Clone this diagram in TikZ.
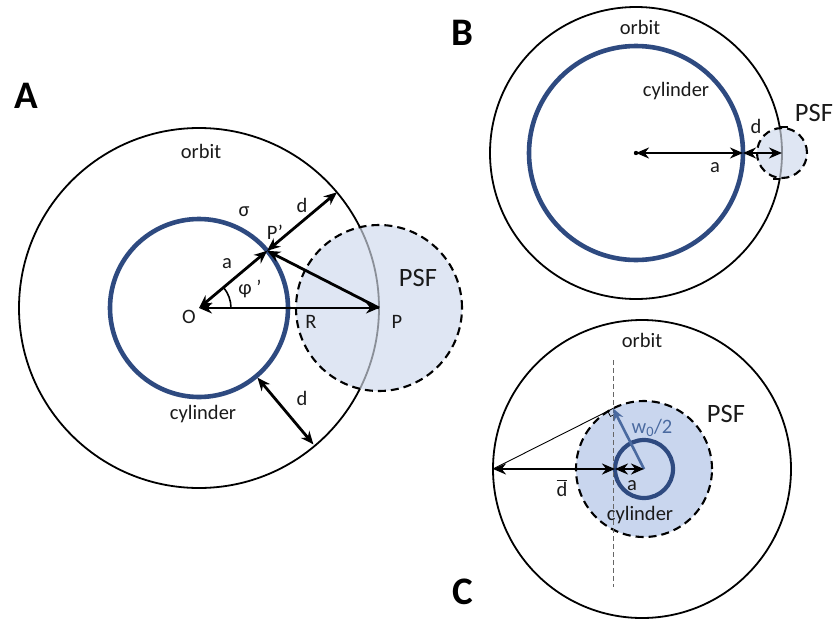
\documentclass[tikz,border=0pt]{standalone}
\usepackage{fontspec}
\setmainfont{Carlito}
\usetikzlibrary{arrows.meta,calc}
\definecolor{cylblue}{HTML}{2E4A80}
\definecolor{psfA}{HTML}{DFE6F3}
\definecolor{psfC}{HTML}{C9D6EE}
\definecolor{wblue}{HTML}{4A6AA0}
\definecolor{txt}{HTML}{1A1A1A}
\definecolor{orbgray}{HTML}{8A8F98}
\begin{document}
\begin{tikzpicture}[x=1pt,y=1pt,
  orbitline/.style={line width=1.8pt, black},
  orbitin/.style={line width=1.8pt, orbgray},
  cyl/.style={line width=4.6pt, cylblue},
  psfline/.style={line width=2.1pt, dash pattern=on 8pt off 5pt},
  dim/.style={line width=2.8pt, {Stealth[length=13pt,width=11pt]}-{Stealth[length=13pt,width=11pt]}},
  onearrow/.style={line width=2.8pt, -{Stealth[length=13pt,width=11pt]}},
  lbl/.style={font=\fontsize{20.5}{22}\selectfont, text=txt, inner sep=0pt},
  big/.style={font=\fontsize{26.5}{28}\selectfont, text=txt, inner sep=0pt},
  panel/.style={font=\fontsize{39}{40}\selectfont\bfseries, text=black, inner sep=0pt},
]
\useasboundingbox (0,0) rectangle (837,-621);

% ---------------- Panel A ----------------
\coordinate (O) at (199,-308);
\coordinate (P) at (379,-308);
\draw[orbitline] (O) circle (180);
\fill[psfA] (P) circle (83);
\begin{scope}
  \clip (P) circle (83);
  \draw[orbitin] (O) circle (180);
\end{scope}
\draw[psfline] (P) circle (83);
\draw[cyl] (O) circle (89);

\coordinate (Pp) at ($(O)+(40:89)$);
\coordinate (Q) at ($(O)+(40:180)$);
\coordinate (C1) at ($(O)+(-50:91)$);
\coordinate (Q1) at ($(O)+(-50:178)$);
\draw[line width=1.6pt] ($(O)+(32,0)$) arc (0:40:32);
\draw[dim] (O) -- (P);
\draw[dim] (O) -- (Pp);
\draw[dim] (Pp) -- (Q);
\draw[onearrow] (P) -- (Pp);
\draw[dim] (C1) -- (Q1);

\node[panel] (labA) at (26,-96) {A};
\node[lbl] (orbA) at (201,-151) {orbit};
\node[lbl] (sigA) at (244,-212) {σ};
\node[lbl] (PpA) at (275,-232) {P’};
\node[lbl] (dA1) at (302,-205) {d};
\node[lbl] (aA) at (227,-264) {a};
\node[lbl] (phiA) at (250,-289) {φ ’};
\node[lbl] (OA) at (189,-317) {O};
\node[lbl] (RA) at (311,-322) {R};
\node[lbl] (PA) at (397,-322) {P};
\node[big] (psfAl) at (418,-278) {PSF};
\node[lbl] (dA2) at (302,-398) {d};
\node[lbl] (cylA) at (203,-414) {cylinder};

% ---------------- Panel B ----------------
\coordinate (B0) at (636,-153);
\coordinate (Bc) at (743,-153);
\coordinate (Bp) at (782,-153);
\draw[orbitline] (B0) circle (146);
\fill[psfA] (Bp) circle (25);
\begin{scope}
  \clip (Bp) circle (25);
  \draw[orbitin] (B0) circle (146);
\end{scope}
\draw[psfline] (Bp) circle (25);
\draw[line width=1.4pt] ($(B0)+(10.3:146)$) -- ++(8,0);
\draw[line width=1.4pt] ($(B0)+(-10.3:146)$) -- ++(-7,0);
\draw[cyl] (B0) circle (107);
\fill (B0) circle (2.2);
\draw[dim] (B0) -- (Bc);
\draw[dim] (Bc) -- (Bp);

\node[panel] (labB) at (462,-33) {B};
\node[lbl] (orbB) at (640,-27) {orbit};
\node[lbl] (cylB) at (676,-91) {cylinder};
\node[lbl] (aB) at (715,-168) {a};
\node[lbl] (dB) at (756,-126) {d};
\node[big] (psfBl) at (814,-113) {PSF};

% ---------------- Panel C ----------------
\coordinate (C0) at (642,-469);
\coordinate (Cc) at (644,-469);
\coordinate (T) at ($(Cc)+(117:68)$);
\coordinate (L) at ($(C0)+(180:149)$);
\coordinate (Cl) at ($(Cc)+(180:29)$);
\draw[orbitline] (C0) circle (149);
\fill[psfC] (Cc) circle (68);
\draw[psfline] (Cc) circle (68);
\draw[line width=4.2pt, cylblue] (Cc) circle (29);
\draw[line width=0.9pt, black!60, dash pattern=on 5pt off 3pt] (T |- 0,-360) -- (T |- 0,-587);
\draw[line width=0.9pt] (L) -- (T);
\coordinate (m1) at ($(T)!6pt!(L)$);
\coordinate (m2) at ($(T)!6pt!(Cc)$);
\draw[line width=0.7pt] (m1) -- ($(m1)+(m2)-(T)$) -- (m2);
\draw[line width=2.6pt, wblue, -{Stealth[length=12pt,width=10pt]}] (Cc) -- (T);
\draw[dim] (L) -- (Cl);
\draw[dim] (Cl) -- (Cc);

\node[panel] (labC) at (463,-592) {C};
\node[lbl] (orbC) at (642,-340) {orbit};
\node[big] (psfCl) at (726,-414) {PSF};
\node[lbl, text=wblue] (wC) at (652,-428) {w\textsubscript{0}/2};
\node[lbl] (dC) at (562,-488) {$\overline{\mbox{d}}$};
\node[lbl] (aC) at (632,-486) {a};
\node[lbl] (cylC) at (640,-515) {cylinder};
\end{tikzpicture}
\end{document}
